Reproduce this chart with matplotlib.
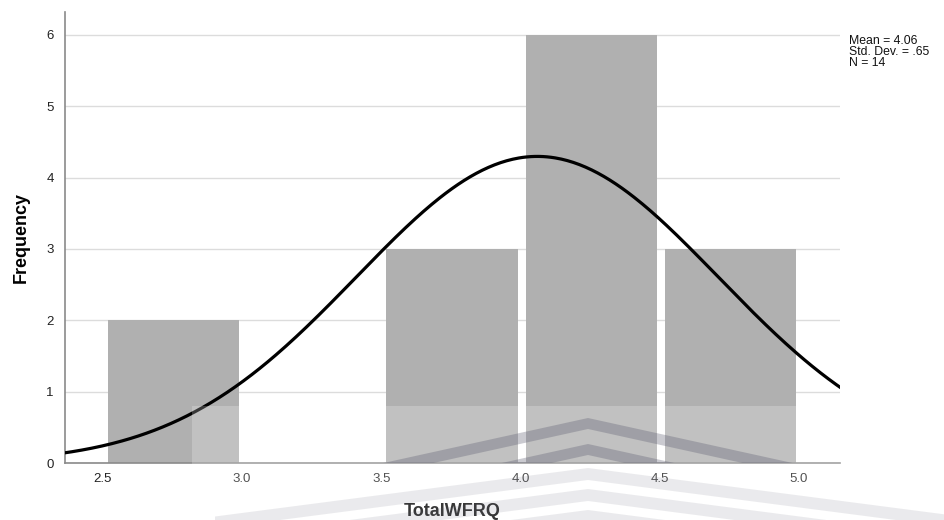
import numpy as np
import matplotlib.pyplot as plt
from matplotlib.patches import Polygon, Rectangle

# histogram data (TotalWFRQ)
bin_edges = [2.5, 3.0, 3.5, 4.0, 4.5, 5.0]
counts = [2, 0, 3, 6, 3]
mean_val = 4.06
std_val = 0.65
n_obs = 14
x_ticks = [2.5, 3.0, 3.5, 4.0, 4.5, 5.0]
y_ticks = [0, 1, 2, 3, 4, 5, 6]

W, H = 945, 520
plt.rcParams["font.family"] = ["Liberation Sans", "DejaVu Sans"]

fig = plt.figure(figsize=(W / 100, H / 100), dpi=100)
ax = fig.add_axes([65 / W, 1 - 463 / H, (840 - 65) / W, (463 - 12) / H])

# bars, with a thin white gap between neighbours
gap = 0.028
lefts = np.array(bin_edges[:-1]) + gap / 2 + 0.004
widths = np.diff(bin_edges) - gap
ax.bar(lefts, counts, width=widths, align="edge", color="#b0b0b0",
       edgecolor="none", zorder=2)

# normal curve scaled to counts
bw = bin_edges[1] - bin_edges[0]
xs = np.linspace(2.30, 5.20, 400)
ys = n_obs * bw / (std_val * np.sqrt(2 * np.pi)) * np.exp(-0.5 * ((xs - mean_val) / std_val) ** 2)
ax.plot(xs, ys, color="black", linewidth=2.3, zorder=3)

ax.set_xlim(2.364, 5.147)
ax.set_ylim(0, 6.32)
ax.set_xticks(x_ticks)
ax.set_xticklabels([f"{t:.1f}" for t in x_ticks])
ax.set_yticks(y_ticks)
ax.tick_params(length=0, labelsize=9.5, colors="#222222")
ax.tick_params(axis="x", pad=7)
ax.tick_params(axis="y", pad=8)
ax.yaxis.grid(True, color="#dcdcdc", linewidth=1.0, zorder=0)
ax.set_axisbelow(True)
for s in ["top", "right"]:
    ax.spines[s].set_visible(False)
for s in ["left", "bottom"]:
    ax.spines[s].set_color("#8a8a8a")
    ax.spines[s].set_linewidth(1.2)

ax.set_xlabel("TotalWFRQ", fontsize=13, fontweight="bold", labelpad=13)
ax.set_ylabel("Frequency", fontsize=13, fontweight="bold", labelpad=12)

fig.text(849 / W, 1 - 35 / H, f"Mean = {mean_val:.2f}\nStd. Dev. = .{int(round(std_val * 100))}\nN = {n_obs}",
         fontsize=8.8, va="top", ha="left", linespacing=0.88, color="#111111")


# watermark overlay (figure pixel coordinates)
def px(x, y):
    return (x / W, 1 - y / H)


fig.add_artist(Rectangle(px(192, 520), (W - 192) / W, (520 - 406) / H,
                         transform=fig.transFigure, facecolor="white",
                         alpha=0.22, edgecolor="none", zorder=10))

clip_top = Rectangle(px(0, 463), 1, (463 - 380) / H, transform=fig.transFigure)
clip_bot = Rectangle(px(215, 520), (W - 215) / W, (520 - 463) / H, transform=fig.transFigure)

apex_x = 588
chevrons = [
    (418, 11, 0.22, 0.32, clip_top),
    (444, 11, 0.22, 0.32, clip_top),
    (468, 12, 0.13, 0.12, clip_bot),
    (489, 12, 0.13, 0.12, clip_bot),
    (510, 12, 0.13, 0.12, clip_bot),
]
for apex_y, thick, s, alpha, clip in chevrons:
    xl, xr = apex_x - 600, apex_x + 600
    pts = [px(xl, apex_y + s * 600), px(apex_x, apex_y), px(xr, apex_y + s * 600),
           px(xr, apex_y + s * 600 + thick), px(apex_x, apex_y + thick),
           px(xl, apex_y + s * 600 + thick)]
    poly = Polygon(pts, closed=True, transform=fig.transFigure,
                   facecolor="#5a5a6e", alpha=alpha, edgecolor="none", zorder=11)
    fig.add_artist(poly)
    poly.set_clip_path(clip)

fig.savefig("out.png", dpi=100)
